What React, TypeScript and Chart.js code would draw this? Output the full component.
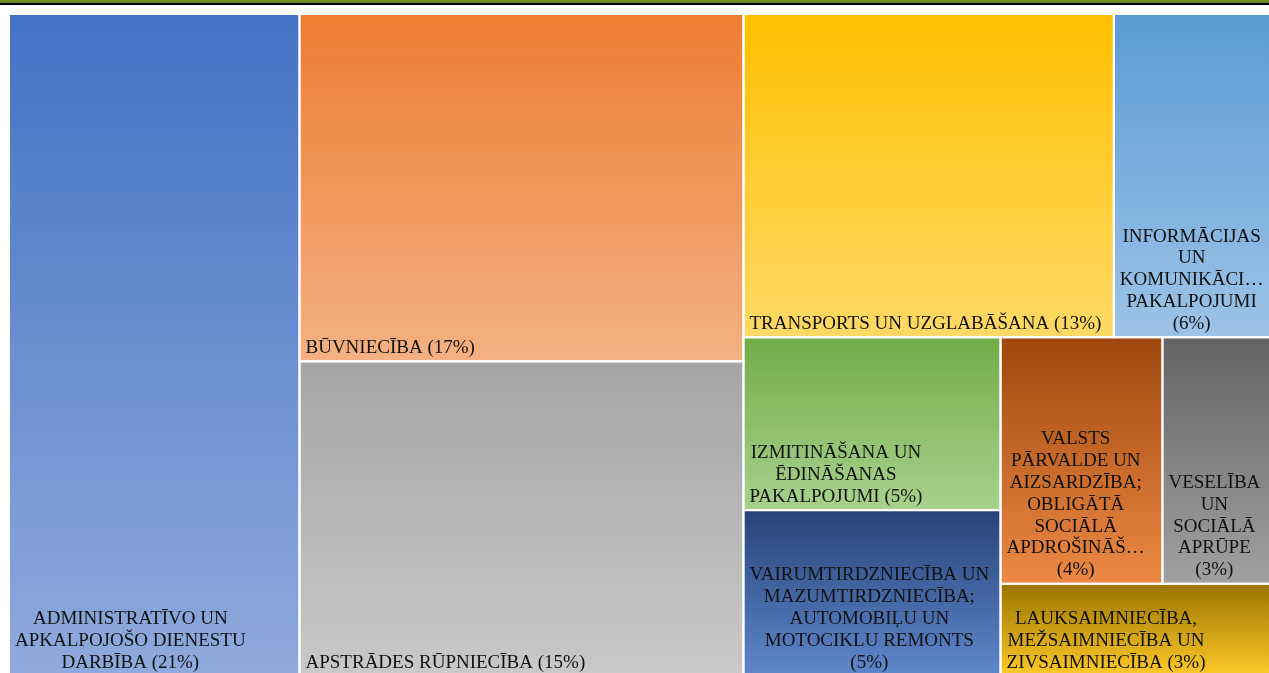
import React, { useEffect, useRef } from "react";
import { Chart, registerables } from "chart.js";

Chart.register(...registerables);

// ---- data ----
const CATEGORIES = [
  "ADMINISTRATĪVO UN APKALPOJOŠO DIENESTU DARBĪBA",
  "BŪVNIECĪBA",
  "APSTRĀDES RŪPNIECĪBA",
  "TRANSPORTS UN UZGLABĀŠANA",
  "INFORMĀCIJAS UN KOMUNIKĀCIJU PAKALPOJUMI",
  "IZMITINĀŠANA UN ĒDINĀŠANAS PAKALPOJUMI",
  "VAIRUMTIRDZNIECĪBA UN MAZUMTIRDZNIECĪBA; AUTOMOBIĻU UN MOTOCIKLU REMONTS",
  "VALSTS PĀRVALDE UN AIZSARDZĪBA; OBLIGĀTĀ SOCIĀLĀ APDROŠINĀŠANA",
  "VESELĪBA UN SOCIĀLĀ APRŪPE",
  "LAUKSAIMNIECĪBA, MEŽSAIMNIECĪBA UN ZIVSAIMNIECĪBA",
];
// share of total, %
const VALUES = [21.2, 17.0, 15.4, 13.2, 5.6, 4.9, 4.7, 4.4, 2.95, 2.75];
const COLORS = [
  "#4472C4",
  "#ED7D31",
  "#A5A5A5",
  "#FFC000",
  "#5B9BD5",
  "#70AD47",
  "#264478",
  "#9E480E",
  "#636363",
  "#997300",
];
// number of cells in each successive strip of the treemap
const STRIP_SIZES = [1, 2, 2, 2, 2, 1];

const FONT = '19px "Liberation Serif", "Times New Roman", serif';
const LINE_H = 21.8;
const PAD = 6;

function hexToRgb(h: string) {
  const n = parseInt(h.slice(1), 16);
  return [(n >> 16) & 255, (n >> 8) & 255, n & 255];
}
function rgbToHsl(r: number, g: number, b: number) {
  r /= 255; g /= 255; b /= 255;
  const mx = Math.max(r, g, b), mn = Math.min(r, g, b);
  const l = (mx + mn) / 2;
  let h = 0, s = 0;
  if (mx !== mn) {
    const d = mx - mn;
    s = l > 0.5 ? d / (2 - mx - mn) : d / (mx + mn);
    if (mx === r) h = ((g - b) / d + (g < b ? 6 : 0)) / 6;
    else if (mx === g) h = ((b - r) / d + 2) / 6;
    else h = ((r - g) / d + 4) / 6;
  }
  return [h, s, l];
}
function hslToRgb(h: number, s: number, l: number) {
  if (s === 0) return [l * 255, l * 255, l * 255];
  const q = l < 0.5 ? l * (1 + s) : l + s - l * s;
  const p = 2 * l - q;
  const f = (t: number) => {
    if (t < 0) t += 1;
    if (t > 1) t -= 1;
    if (t < 1 / 6) return p + (q - p) * 6 * t;
    if (t < 1 / 2) return q;
    if (t < 2 / 3) return p + (q - p) * (2 / 3 - t) * 6;
    return p;
  };
  return [f(h + 1 / 3) * 255, f(h) * 255, f(h - 1 / 3) * 255];
}
// Office "lighter 40%": L' = 0.6 L + 0.4
function lighter(hex: string) {
  const [r, g, b] = hexToRgb(hex);
  const [h, s, l] = rgbToHsl(r, g, b);
  const [R, G, B] = hslToRgb(h, s, l * 0.6 + 0.4);
  return `rgb(${Math.round(R)},${Math.round(G)},${Math.round(B)})`;
}

type Cell = { x: number; y: number; w: number; h: number };

// strip layout in a box of width `aspect` and height 1; each strip runs along the shorter side
function layout(values: number[], strips: number[], aspect: number): Cell[] {
  let rx = 0, ry = 0, rw = aspect, rh = 1;
  let remaining = values.reduce((a, b) => a + b, 0);
  const out: Cell[] = [];
  let idx = 0;
  for (const count of strips) {
    const items = values.slice(idx, idx + count);
    const s = items.reduce((a, b) => a + b, 0);
    const area = (s / remaining) * rw * rh;
    if (rw >= rh) {
      const cw = area / rh;
      let cy = ry;
      for (const v of items) {
        const ch = (rh * v) / s;
        out.push({ x: rx, y: cy, w: cw, h: ch });
        cy += ch;
      }
      rx += cw;
      rw -= cw;
    } else {
      const ch = area / rw;
      let cx = rx;
      for (const v of items) {
        const cw = (rw * v) / s;
        out.push({ x: cx, y: ry, w: cw, h: ch });
        cx += cw;
      }
      ry += ch;
      rh -= ch;
    }
    remaining -= s;
    idx += count;
  }
  return out;
}

function wrap(ctx: CanvasRenderingContext2D, text: string, maxW: number): string[] {
  const words = text.split(" ");
  const lines: string[] = [];
  let cur = "";
  for (const w of words) {
    const test = cur ? cur + " " + w : w;
    if (ctx.measureText(test).width <= maxW) {
      cur = test;
      continue;
    }
    if (cur) {
      lines.push(cur);
      cur = "";
    }
    if (ctx.measureText(w).width <= maxW) {
      cur = w;
    } else {
      let p = w;
      while (p.length > 1 && ctx.measureText(p + "…").width > maxW) p = p.slice(0, -1);
      lines.push(p + "…");
    }
  }
  if (cur) lines.push(cur);
  return lines;
}

const treemapPlugin = {
  id: "treemapCells",
  afterDatasetsDraw(chart: any) {
    const { ctx, chartArea, scales } = chart;
    const xS = scales.x;
    const yS = scales.y;
    const aspect = chartArea.width / chartArea.height;
    const cells = layout(VALUES, STRIP_SIZES, aspect);
    const px = cells.map((c) => {
      const x0 = xS.getPixelForValue(c.x / aspect);
      const x1 = xS.getPixelForValue((c.x + c.w) / aspect);
      const y0 = yS.getPixelForValue(c.y);
      const y1 = yS.getPixelForValue(c.y + c.h);
      return { x0, x1, y0, y1 };
    });
    ctx.save();
    px.forEach((r, i) => {
      const g = ctx.createLinearGradient(0, r.y0, 0, r.y1);
      g.addColorStop(0, COLORS[i]);
      g.addColorStop(1, lighter(COLORS[i]));
      ctx.fillStyle = g;
      ctx.fillRect(r.x0, r.y0, r.x1 - r.x0, r.y1 - r.y0);
    });
    ctx.strokeStyle = "#ffffff";
    ctx.lineWidth = 2;
    px.forEach((r) => ctx.strokeRect(r.x0, r.y0, r.x1 - r.x0, r.y1 - r.y0));

    ctx.font = FONT;
    ctx.fillStyle = "#111111";
    ctx.textAlign = "center";
    ctx.textBaseline = "alphabetic";
    px.forEach((r, i) => {
      const text = `${CATEGORIES[i]} (${Math.round(VALUES[i])}%)`;
      const lines = wrap(ctx, text, r.x1 - r.x0 - 2 * PAD);
      const boxW = Math.max(...lines.map((l) => ctx.measureText(l).width));
      const cx = r.x0 + PAD + boxW / 2;
      const last = r.y1 - 8.5;
      lines.forEach((l, k) => {
        ctx.fillText(l, cx, last - (lines.length - 1 - k) * LINE_H);
      });
    });
    ctx.restore();
  },
};

export default function App() {
  const ref = useRef<HTMLCanvasElement>(null);
  useEffect(() => {
    if (!ref.current) return;
    const chart = new Chart(ref.current, {
      type: "scatter",
      data: { datasets: [{ label: "Nozares", data: [] }] },
      options: {
        animation: false,
        responsive: false,
        devicePixelRatio: 1,
        layout: { padding: { left: 9, top: 14, right: 9, bottom: 14 } },
        scales: {
          x: { type: "linear", min: 0, max: 1, display: false },
          y: { type: "linear", min: 0, max: 1, reverse: true, display: false },
        },
        plugins: { legend: { display: false }, tooltip: { enabled: false }, title: { display: false } },
      },
      plugins: [treemapPlugin],
    });
    return () => chart.destroy();
  }, []);
  return (
    <div style={{ position: "fixed", left: 0, top: 0, width: 1280, height: 690, background: "#fff" }}>
      <canvas ref={ref} width={1280} height={690} style={{ display: "block", width: 1280, height: 690 }} />
      <div
        style={{
          position: "absolute",
          left: 0,
          top: 0,
          width: 1280,
          height: 3,
          background: "#6B8A23",
          borderBottom: "2px solid #000",
        }}
      />
    </div>
  );
}
